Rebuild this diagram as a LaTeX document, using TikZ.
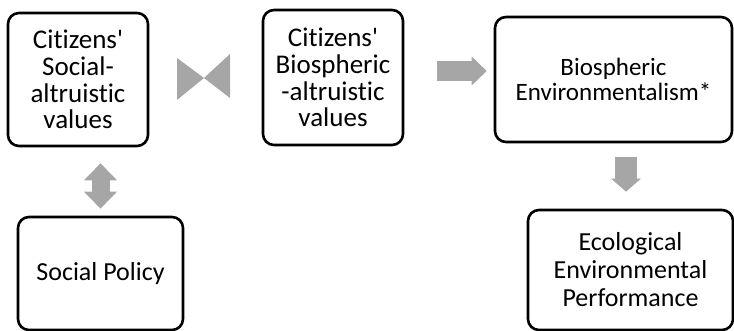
\documentclass[tikz,border=0pt]{standalone}
\usepackage{fontspec}
\setmainfont{Carlito}[Ligatures={TeXOff,NoCommon}]
\usetikzlibrary{arrows.meta}
\begin{document}
\begin{tikzpicture}[x=1pt,y=-1pt,
        box/.style={draw,line width=2.6pt,rounded corners=11pt,align=center,
            font=\fontsize{27}{26.7}\selectfont,inner sep=0pt},
        blockarrow/.style={line width=20pt,gray!70}]
        \useasboundingbox (0,0) rectangle (734,331);
        \node[box,minimum width=140pt,minimum height=133pt] (socval) at (78,79.5) {Citizens'\\Social-\\altruistic\\values};
        \node[box,minimum width=140pt,minimum height=135pt] (bioval) at (333,77.5) {Citizens'\\Biospheric\\-altruistic\\values};
        \node[box,minimum width=237pt,minimum height=125pt,font=\fontsize{25}{25}\selectfont] (bioenv) at (613.5,79.5) {Biospheric\\Environmentalism*};
        \node[box,minimum width=165pt,minimum height=113pt,font=\fontsize{26}{28}\selectfont] (policy) at (100.5,273.5) {Social Policy};
        \node[box,minimum width=205pt,minimum height=120pt,font=\fontsize{26}{28}\selectfont] (perf) at (630.5,270) {Ecological\\Environmental\\Performance};
        % bow tie between the two value boxes
        \coordinate (bow) at (204,78);
        \fill[gray!70] (bow) -- ++(-27,-20) -- ++(0,42) -- cycle;
        \fill[gray!70] (bow) -- ++(26,-24) -- ++(0,44) -- cycle;
        % block arrows
        \draw[blockarrow,-{Triangle[length=15pt,width=28pt]},shorten <=33pt,shorten >=7pt] (bioval.east |- 0,71) -- (bioenv.west |- 0,71);
        \draw[blockarrow,line width=22pt,-{Triangle[length=13pt,width=29pt]},shorten <=14pt,shorten >=17pt] (bioenv.south -| 626,0) -- (perf.north -| 626,0);
        \draw[blockarrow,line width=18pt,{Triangle[length=17pt,width=32pt]}-{Triangle[length=17pt,width=32pt]},shorten <=16pt,shorten >=7pt] (socval.south -| policy.north) -- (policy.north);
\end{tikzpicture}
\end{document}
